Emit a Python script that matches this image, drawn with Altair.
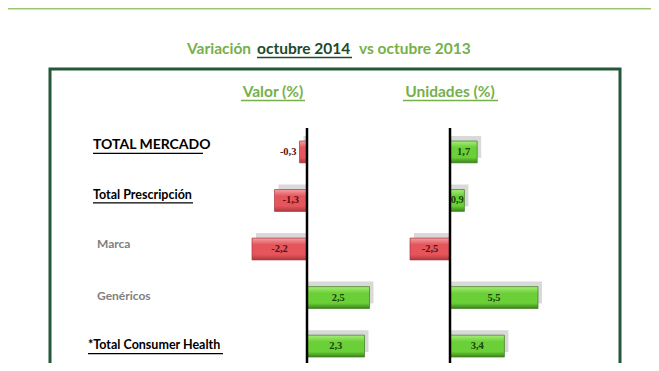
import altair as alt
import pandas as pd

# ---- data ----
categories = ["TOTAL MERCADO", "Total Prescripción", "Marca", "Genéricos", "*Total Consumer Health"]
valor = [-0.3, -1.3, -2.2, 2.5, 2.3]
unidades = [1.7, 0.9, -2.5, 5.5, 3.4]
title_parts = ["Variación", "octubre 2014", "vs octubre 2013"]
headers = ["Valor (%)", "Unidades (%)"]


def fmt(v):
    return f"{v:.1f}".replace(".", ",")


df_v = pd.DataFrame({"cat": categories, "v": valor, "lab": [fmt(v) for v in valor]})
df_u = pd.DataFrame({"cat": categories, "v": unidades, "lab": [fmt(v) for v in unidades]})
one = pd.DataFrame({"z": [0]})

# ---- styles ----
W, H = 643, 355
GREEN_T = "#76b04a"
DARK_T = "#1e4a2c"
FRAME = "#25573a"
FONT = "Lato"

ysc = alt.Scale(domain=categories, range=[133, 349], paddingInner=0.55, paddingOuter=0)
xv = alt.Scale(domain=[-11.96, 13.76], nice=False, zero=False)
xu = alt.Scale(domain=[-27.625, 12.5625], nice=False, zero=False)

red_grad = alt.Gradient(
    gradient="linear", x1=0, x2=0, y1=0, y2=1,
    stops=[alt.GradientStop(color="#f3a0a3", offset=0),
           alt.GradientStop(color="#e4565c", offset=0.3),
           alt.GradientStop(color="#e4565c", offset=0.75),
           alt.GradientStop(color="#b0383d", offset=1)])
green_grad = alt.Gradient(
    gradient="linear", x1=0, x2=0, y1=0, y2=1,
    stops=[alt.GradientStop(color="#a6ee78", offset=0),
           alt.GradientStop(color="#6bd038", offset=0.3),
           alt.GradientStop(color="#6bd038", offset=0.75),
           alt.GradientStop(color="#3a8419", offset=1)])

layers = []

# top decorative line
layers.append(alt.Chart(one).mark_rule(color="#9cc96e", strokeWidth=2).encode(
    x=alt.value(0), x2=alt.value(W), y=alt.value(0.5)))

# frame
layers.append(alt.Chart(one).mark_rect(filled=False, stroke=FRAME, strokeWidth=3).encode(
    x=alt.value(42), x2=alt.value(612), y=alt.value(61), y2=alt.value(420)))

# title
t_df = pd.DataFrame({"t": title_parts})
tx = [179, 249, 351]
tcol = [GREEN_T, DARK_T, GREEN_T]
for i, part in enumerate(title_parts):
    layers.append(alt.Chart(t_df).transform_filter(alt.datum.t == part).mark_text(
        align="left", baseline="alphabetic", font=FONT, fontWeight="bold", fontSize=15.5,
        color=tcol[i]).encode(x=alt.value(tx[i]), y=alt.value(46), text="t:N"))
layers.append(alt.Chart(one).mark_rule(color=DARK_T, strokeWidth=1.5).encode(
    x=alt.value(249), x2=alt.value(344), y=alt.value(49.5)))

# headers
h_df = pd.DataFrame({"h": headers})
hx = [265, 442]
hul = [(233, 297), (395, 490)]
for i, h in enumerate(headers):
    layers.append(alt.Chart(h_df).transform_filter(alt.datum.h == h).mark_text(
        align="center", baseline="alphabetic", font=FONT, fontWeight="bold", fontSize=15.5,
        color=GREEN_T).encode(x=alt.value(hx[i]), y=alt.value(89), text="h:N"))
    layers.append(alt.Chart(one).mark_rule(color=GREEN_T, strokeWidth=1.3).encode(
        x=alt.value(hul[i][0]), x2=alt.value(hul[i][1]), y=alt.value(92.5)))

# category labels
lab_x = [85, 85, 89, 89, 80]
lab_dy = [-7, -5, -5, -2, -1]
lab_size = [14, 12.5, 12, 12, 12.5]
lab_color = ["#000000", "#000000", "#808080", "#808080", "#000000"]
lab_ul = [(85, 195, 1.5), (85, 185, 2.5), None, None, (80, 215, 7.5)]
for i, c in enumerate(categories):
    base = alt.Chart(df_v).transform_filter(alt.datum.cat == c)
    layers.append(base.mark_text(
        align="left", baseline="middle", dy=lab_dy[i], font=FONT, fontWeight="bold",
        fontSize=lab_size[i], color=lab_color[i]).encode(
        y=alt.Y("cat:N", scale=ysc, axis=None), x=alt.value(lab_x[i]), text="cat:N"))
    if lab_ul[i]:
        a, b, off = lab_ul[i]
        layers.append(base.mark_rule(color="#000000", strokeWidth=1.2, yOffset=off).encode(
            y=alt.Y("cat:N", scale=ysc, axis=None), x=alt.value(a), x2=alt.value(b)))


def panel(df, xs):
    out = []
    b = alt.Chart(df)
    Y = alt.Y("cat:N", scale=ysc, axis=None)
    X = alt.X("v:Q", scale=xs, axis=None)
    out.append(b.mark_bar(color="#cccccc", opacity=0.75, xOffset=4, yOffset=-5).encode(
        y=Y, x=X, x2=alt.datum(0)))
    out.append(b.transform_filter("datum.v < 0").mark_bar(
        color=red_grad, stroke="#a9383d", strokeWidth=0.7).encode(y=Y, x=X, x2=alt.datum(0)))
    out.append(b.transform_filter("datum.v >= 0").mark_bar(
        color=green_grad, stroke="#3d7a20", strokeWidth=0.7).encode(y=Y, x=X, x2=alt.datum(0)))
    tcolor = alt.condition("datum.v < 0", alt.value("#5a1013"), alt.value("#1c400d"))
    out.append(b.transform_filter("abs(datum.v) >= 0.5").transform_calculate(m="datum.v / 2").mark_text(
        font="Liberation Serif", fontWeight="bold", fontSize=10.5, baseline="middle").encode(
        y=Y, x=alt.X("m:Q", scale=xs, axis=None), text="lab:N", color=tcolor))
    out.append(b.transform_filter("abs(datum.v) < 0.5").mark_text(
        font="Liberation Serif", fontWeight="bold", fontSize=10.5, baseline="middle",
        align="right", dx=-3).encode(y=Y, x=X, text="lab:N", color=tcolor))
    out.append(alt.Chart(one).mark_rule(color="#000000", strokeWidth=2.5).encode(
        x=alt.X("z:Q", scale=xs, axis=None), y=alt.value(120), y2=alt.value(H)))
    return out


layers += panel(df_v, xv)
layers += panel(df_u, xu)

chart = alt.layer(*layers).resolve_scale(x="independent").properties(
    width=W, height=H, padding=0, autosize="none", background="white"
).configure_view(stroke=None)

chart.save("out.html", embed_options={"renderer": "svg", "actions": False})
